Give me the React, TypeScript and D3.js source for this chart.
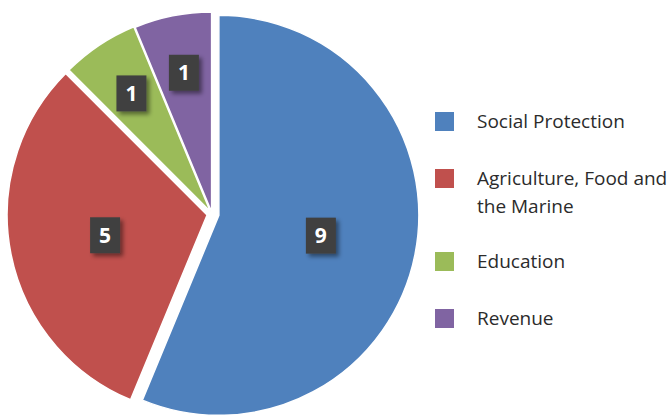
import React, { useEffect, useRef } from 'react';
import * as d3 from 'd3';

const categories = ['Social Protection', 'Agriculture, Food and the Marine', 'Education', 'Revenue'];
const values = [9, 5, 1, 1];
const colors = ['#4F81BD', '#C0504D', '#9BBB59', '#8064A2'];
const explode = [7, 5, 3, 2];
const legendLines = [['Social Protection'], ['Agriculture, Food and', 'the Marine'], ['Education'], ['Revenue']];

const width = 671;
const height = 416;

export default function App() {
  const svgRef = useRef<SVGSVGElement>(null);

  useEffect(() => {
    const svg = d3.select(svgRef.current);
    svg.selectAll('*').remove();

    const r = 200;
    const cx = 212;
    const cy = 214;
    const total = d3.sum(values);

    const defs = svg.append('defs');
    const f = defs.append('filter').attr('id', 'shadow').attr('x', '-50%').attr('y', '-50%').attr('width', '200%').attr('height', '200%');
    f.append('feDropShadow').attr('dx', 3).attr('dy', 3).attr('stdDeviation', 2).attr('flood-color', '#000').attr('flood-opacity', 0.45);

    const pie = d3.pie<number>().sort(null).value(d => d);
    const arcs = pie(values);
    const arc = d3.arc<d3.PieArcDatum<number>>().innerRadius(0).outerRadius(r);

    const g = svg.append('g').attr('transform', `translate(${cx},${cy})`);

    const slices = g.selectAll('g.slice')
      .data(arcs)
      .enter()
      .append('g')
      .attr('class', 'slice')
      .attr('transform', (d, i) => {
        const a = (d.startAngle + d.endAngle) / 2;
        return `translate(${Math.sin(a) * explode[i]},${-Math.cos(a) * explode[i]})`;
      });

    slices.append('path')
      .attr('d', arc)
      .attr('fill', (d, i) => colors[i])
      .attr('stroke', '#fff')
      .attr('stroke-width', 1.5);

    // labels: small slices pushed further out
    const lab = slices.append('g')
      .attr('transform', d => {
        const a = (d.startAngle + d.endAngle) / 2;
        const lr = d.value / total < 0.1 ? r * 0.71 : r * 0.52;
        return `translate(${Math.sin(a) * lr},${-Math.cos(a) * lr})`;
      });

    lab.append('rect')
      .attr('x', -15)
      .attr('y', -18)
      .attr('width', 30)
      .attr('height', 36)
      .attr('fill', '#404040')
      .attr('filter', 'url(#shadow)');

    lab.append('text')
      .attr('text-anchor', 'middle')
      .attr('dy', '0.36em')
      .attr('fill', '#fff')
      .attr('font-family', 'Open Sans, sans-serif')
      .attr('font-weight', 'bold')
      .attr('font-size', 21)
      .text(d => d.value);

    // legend: rows grow with wrapped lines
    const rowGap = 57;
    const lineH = 26;
    const offsets = legendLines.map((_, i) =>
      i * rowGap + d3.sum(legendLines.slice(0, i), l => l.length - 1) * lineH);
    const legendY = d3.scaleLinear().domain([0, d3.max(offsets) as number]).range([121, 121 + (d3.max(offsets) as number)]);

    const leg = svg.append('g')
      .selectAll('g')
      .data(categories)
      .enter()
      .append('g')
      .attr('transform', (d, i) => `translate(435,${legendY(offsets[i])})`);

    leg.append('rect')
      .attr('x', 0)
      .attr('y', -9)
      .attr('width', 19)
      .attr('height', 19)
      .attr('fill', (d, i) => colors[i]);

    leg.append('text')
      .attr('x', 42)
      .attr('y', 0)
      .attr('fill', '#2b2b2b')
      .attr('font-family', 'Open Sans, sans-serif')
      .attr('font-size', 19)
      .selectAll('tspan')
      .data((d, i) => legendLines[i])
      .enter()
      .append('tspan')
      .attr('x', 42)
      .attr('dy', (d, j) => (j === 0 ? '0.35em' : `${lineH + 2}px`))
      .text(d => d);
  }, []);

  return (
    <svg ref={svgRef} width={width} height={height}
      style={{ position: 'absolute', left: 0, top: 0, background: '#fff' }} />
  );
}
